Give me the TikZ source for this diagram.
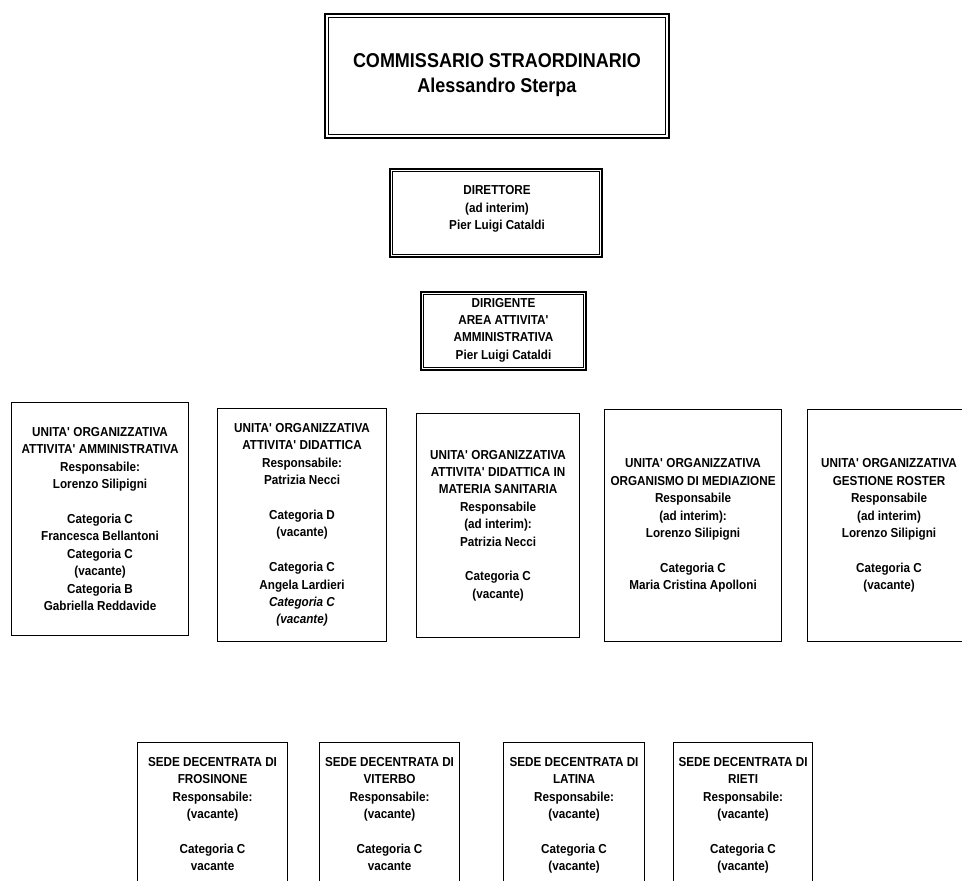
\documentclass[tikz,border=0pt]{standalone}
\usepackage{fontspec}
\setmainfont[FakeStretch=0.9]{Liberation Sans}
\newcommand{\apo}{\textquotesingle}
\begin{document}
\begin{tikzpicture}[x=1pt,y=-1pt,
  txt/.style={font=\fontsize{13}{17.4}\selectfont\bfseries, align=center, inner sep=0pt, text=black},
  unitbox/.style={draw, line width=1.1pt, txt, anchor=north west},
  sedebox/.style={draw, line width=1.1pt, anchor=north west, inner sep=0pt},
  outerbox/.style={draw, line width=1.4pt, inner sep=0pt},
  innerline/.style={line width=0.8pt}]
\clip (0,0) rectangle (962,881);
\fill[white] (0,0) rectangle (962,881);

% commissario
\node[outerbox, minimum width=344, minimum height=124] (comm) at (497,76) {};
\draw[innerline] ([shift={(4,4)}]comm.north west) rectangle ([shift={(-4,-4)}]comm.south east);
\node[txt, font=\fontsize{20}{25.5}\selectfont\bfseries] (commt) at (497,75)
  {COMMISSARIO STRAORDINARIO\\Alessandro Sterpa};

% direttore
\node[outerbox, minimum width=212, minimum height=88] (dir) at (496,213) {};
\draw[innerline] ([shift={(3.5,3.5)}]dir.north west) rectangle ([shift={(-3.5,-3.5)}]dir.south east);
\node[txt] (dirt) at (497,209) {DIRETTORE\\(ad interim)\\Pier Luigi Cataldi};

% dirigente
\node[outerbox, minimum width=165, minimum height=78] (dirig) at (503.5,331) {};
\draw[innerline] ([shift={(3.5,3.5)}]dirig.north west) rectangle ([shift={(-3.5,-3.5)}]dirig.south east);
\node[txt] (dirigt) at (503.5,330)
  {DIRIGENTE\\AREA ATTIVITA\apo\\AMMINISTRATIVA\\Pier Luigi Cataldi};

% unit boxes
\node[unitbox, minimum width=177, minimum height=233] (u1) at (11,402)
  {UNITA\apo{} ORGANIZZATIVA\\ATTIVITA\apo{} AMMINISTRATIVA\\Responsabile:\\Lorenzo Silipigni\\[17.4pt]
   Categoria C\\Francesca Bellantoni\\Categoria C\\(vacante)\\Categoria B\\Gabriella Reddavide};
\node[unitbox, minimum width=169, minimum height=233] (u2) at (217,408)
  {UNITA\apo{} ORGANIZZATIVA\\ATTIVITA\apo{} DIDATTICA\\Responsabile:\\Patrizia Necci\\[17.4pt]
   Categoria D\\(vacante)\\[17.4pt]
   Categoria C\\Angela Lardieri\\\textit{Categoria C}\\\textit{(vacante)}};
\node[unitbox, minimum width=163, minimum height=224] (u3) at (416,413)
  {UNITA\apo{} ORGANIZZATIVA\\ATTIVITA\apo{} DIDATTICA IN\\MATERIA SANITARIA\\Responsabile\\(ad interim):\\Patrizia Necci\\[17.4pt]
   Categoria C\\(vacante)};
\node[unitbox, minimum width=177, minimum height=232] (u4) at (604,409)
  {UNITA\apo{} ORGANIZZATIVA\\ORGANISMO DI MEDIAZIONE\\Responsabile\\(ad interim):\\Lorenzo Silipigni\\[17.4pt]
   Categoria C\\Maria Cristina Apolloni};
\node[unitbox, minimum width=163, minimum height=232] (u5) at (807,409)
  {UNITA\apo{} ORGANIZZATIVA\\GESTIONE ROSTER\\Responsabile\\(ad interim)\\Lorenzo Silipigni\\[17.4pt]
   Categoria C\\(vacante)};

% sedi decentrate
\node[sedebox, minimum width=150, minimum height=170] (s1) at (137,742) {};
\node[sedebox, minimum width=140, minimum height=170] (s2) at (319,742) {};
\node[sedebox, minimum width=141, minimum height=170] (s3) at (503,742) {};
\node[sedebox, minimum width=139, minimum height=170] (s4) at (673,742) {};

\node[txt, anchor=north] (s1t) at ([yshift=-15]s1.north)
  {SEDE DECENTRATA DI\\FROSINONE\\Responsabile:\\(vacante)\\[17.4pt]Categoria C\\vacante};
\node[txt, anchor=north] (s2t) at ([yshift=-15]s2.north)
  {SEDE DECENTRATA DI\\VITERBO\\Responsabile:\\(vacante)\\[17.4pt]Categoria C\\vacante};
\node[txt, anchor=north] (s3t) at ([yshift=-15]s3.north)
  {SEDE DECENTRATA DI\\LATINA\\Responsabile:\\(vacante)\\[17.4pt]Categoria C\\(vacante)};
\node[txt, anchor=north] (s4t) at ([yshift=-15]s4.north)
  {SEDE DECENTRATA DI\\RIETI\\Responsabile:\\(vacante)\\[17.4pt]Categoria C\\(vacante)};
\end{tikzpicture}
\end{document}
